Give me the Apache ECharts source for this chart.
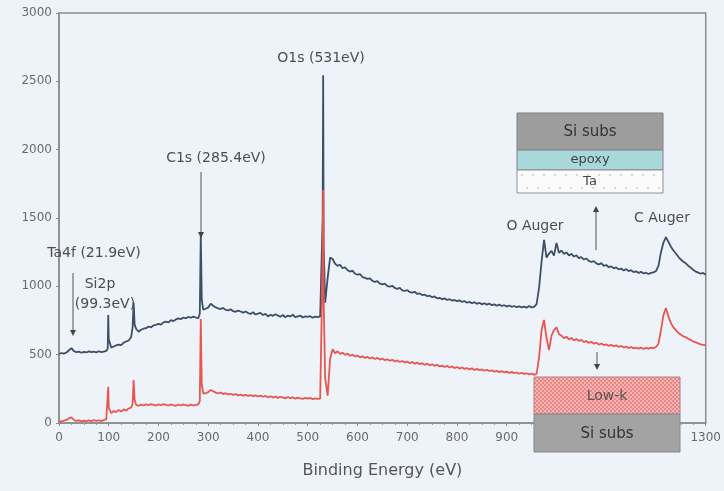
<!DOCTYPE html>
<html>
<head>
<meta charset="utf-8">
<script src="https://cdn.jsdelivr.net/npm/echarts@6/dist/echarts.min.js"></script>
<style>
  html, body { margin: 0; padding: 0; background: #eef3fa; }
  #chart { width: 724px; height: 491px; }
</style>
</head>
<body>
<div id="chart"></div>
<script>
// XPS survey spectra: Ta / epoxy stack (upper) and Low-k film (lower)
const xTicks = [0, 100, 200, 300, 400, 500, 600, 700, 800, 900, 1000, 1100, 1200, 1300];
const yTicks = [0, 500, 1000, 1500, 2000, 2500, 3000];

// [binding energy (eV), counts]
const taEpoxySpectrum = [
  [0,505],[5,512],[10,508],[15,516],[20,532],[25,548],[30,526],[35,518],[40,522],[45,514],[50,521],[55,516],[60,524],[65,518],[70,522],[75,517],[80,525],[85,519],[90,523],[95,527],[98,545],[99,790],[100,610],[105,552],[110,560],[115,568],[120,574],[125,570],[130,588],[135,596],[140,604],[145,628],[148,700],[150,880],[152,720],[155,690],[160,668],[165,682],[170,690],[175,694],[180,706],[185,700],[190,714],[195,718],[200,726],[205,720],[210,736],[215,742],[220,736],[225,752],[230,746],[235,758],[240,766],[245,760],[250,772],[255,766],[260,776],[265,770],[270,778],[275,772],[280,766],[283,800],[285,1385],[287,900],[290,830],[295,836],[300,846],[305,872],[310,858],[315,846],[320,838],[325,834],[330,842],[335,828],[340,824],[345,832],[350,818],[355,814],[360,822],[365,816],[370,808],[375,816],[380,804],[385,798],[390,810],[395,794],[400,800],[405,806],[410,790],[415,798],[420,780],[425,792],[430,784],[435,796],[440,786],[445,778],[450,790],[455,774],[460,786],[465,780],[470,792],[475,774],[480,780],[485,786],[490,772],[495,780],[500,776],[505,782],[510,770],[515,778],[520,774],[525,780],[528,792],[530,1500],[531,2545],[532,1300],[535,880],[540,1060],[545,1210],[550,1200],[555,1165],[560,1150],[565,1158],[570,1132],[575,1140],[580,1118],[585,1108],[590,1115],[595,1092],[600,1085],[605,1090],[610,1068],[615,1062],[620,1055],[625,1058],[630,1040],[635,1032],[640,1038],[645,1020],[650,1015],[655,1020],[660,1002],[665,998],[670,1004],[675,988],[680,982],[685,988],[690,970],[695,966],[700,972],[705,958],[710,954],[715,960],[720,944],[725,948],[730,936],[735,940],[740,928],[745,932],[750,920],[755,926],[760,912],[765,916],[770,905],[775,912],[780,900],[785,906],[790,896],[795,900],[800,892],[805,898],[810,886],[815,892],[820,880],[825,886],[830,876],[835,884],[840,872],[845,880],[850,868],[855,876],[860,866],[865,874],[870,862],[875,868],[880,858],[885,866],[890,856],[895,862],[900,852],[905,860],[910,850],[915,856],[920,848],[925,854],[930,846],[935,852],[940,844],[945,856],[950,846],[955,850],[960,870],[965,990],[970,1180],[975,1340],[980,1210],[985,1240],[990,1260],[995,1225],[1000,1318],[1005,1245],[1010,1262],[1015,1236],[1020,1248],[1025,1226],[1030,1238],[1035,1218],[1040,1226],[1045,1206],[1050,1214],[1055,1196],[1060,1204],[1065,1186],[1070,1178],[1075,1184],[1080,1168],[1085,1160],[1090,1170],[1095,1150],[1100,1156],[1105,1140],[1110,1146],[1115,1132],[1120,1138],[1125,1124],[1130,1130],[1135,1116],[1140,1126],[1145,1112],[1150,1118],[1155,1104],[1160,1110],[1165,1098],[1170,1106],[1175,1094],[1180,1100],[1185,1090],[1190,1098],[1195,1102],[1200,1112],[1205,1150],[1210,1250],[1215,1320],[1220,1360],[1225,1325],[1230,1290],[1235,1262],[1240,1240],[1245,1216],[1250,1196],[1255,1180],[1260,1168],[1265,1150],[1270,1136],[1275,1120],[1280,1108],[1285,1100],[1290,1092],[1295,1098],[1300,1084]
];

const lowKSpectrum = [
  [0,14],[5,10],[10,18],[15,22],[20,34],[25,42],[30,22],[35,16],[40,20],[45,12],[50,18],[55,14],[60,20],[65,12],[70,22],[75,16],[80,20],[85,14],[90,22],[95,26],[98,40],[99,265],[100,110],[105,72],[110,88],[115,80],[120,96],[125,84],[130,100],[135,92],[140,106],[145,112],[148,140],[150,315],[152,170],[155,132],[160,126],[165,134],[170,128],[175,136],[180,130],[185,138],[190,132],[195,128],[200,136],[205,130],[210,138],[215,132],[220,128],[225,136],[230,130],[235,126],[240,134],[245,128],[250,136],[255,130],[260,126],[265,134],[270,128],[275,132],[280,136],[283,160],[285,760],[287,280],[290,215],[295,218],[300,226],[305,242],[310,232],[315,222],[320,216],[325,224],[330,212],[335,218],[340,208],[345,214],[350,206],[355,212],[360,202],[365,208],[370,200],[375,206],[380,198],[385,204],[390,196],[395,202],[400,194],[405,200],[410,192],[415,198],[420,188],[425,196],[430,186],[435,194],[440,184],[445,192],[450,186],[455,180],[460,190],[465,182],[470,188],[475,178],[480,186],[485,180],[490,176],[495,184],[500,178],[505,184],[510,174],[515,180],[520,176],[525,178],[528,190],[530,1200],[531,1705],[532,900],[535,330],[540,200],[545,470],[550,540],[555,510],[560,525],[565,505],[570,515],[575,498],[580,508],[585,492],[590,500],[595,486],[600,494],[605,480],[610,488],[615,476],[620,484],[625,472],[630,480],[635,468],[640,476],[645,464],[650,472],[655,460],[660,466],[665,456],[670,462],[675,450],[680,458],[685,446],[690,454],[695,442],[700,450],[705,438],[710,446],[715,434],[720,442],[725,430],[730,438],[735,426],[740,434],[745,422],[750,430],[755,418],[760,426],[765,414],[770,420],[775,410],[780,418],[785,406],[790,414],[795,402],[800,410],[805,398],[810,406],[815,396],[820,402],[825,392],[830,400],[835,388],[840,396],[845,386],[850,392],[855,382],[860,390],[865,380],[870,386],[875,376],[880,382],[885,372],[890,380],[895,370],[900,376],[905,366],[910,374],[915,364],[920,370],[925,360],[930,368],[935,358],[940,364],[945,356],[950,362],[955,352],[960,360],[965,480],[970,680],[975,754],[980,620],[985,534],[990,640],[995,680],[1000,700],[1005,650],[1010,640],[1015,620],[1020,632],[1025,612],[1030,622],[1035,604],[1040,614],[1045,600],[1050,608],[1055,592],[1060,600],[1065,586],[1070,594],[1075,580],[1080,588],[1085,574],[1090,582],[1095,570],[1100,576],[1105,564],[1110,572],[1115,560],[1120,568],[1125,556],[1130,564],[1135,552],[1140,560],[1145,548],[1150,556],[1155,546],[1160,552],[1165,544],[1170,552],[1175,542],[1180,550],[1185,544],[1190,552],[1195,548],[1200,556],[1205,580],[1210,680],[1215,790],[1220,841],[1225,780],[1230,730],[1235,700],[1240,680],[1245,660],[1250,646],[1255,634],[1260,628],[1265,616],[1270,608],[1275,596],[1280,590],[1285,582],[1290,576],[1295,572],[1300,568]
];

const FONT = '"DejaVu Sans", Verdana, sans-serif';
const TEXT = '#4d4d4d';

// checkered fill for the Low-k layer
function checker() {
  const c = document.createElement('canvas');
  c.width = 4; c.height = 4;
  const g = c.getContext('2d');
  g.fillStyle = '#f6b4b4'; g.fillRect(0, 0, 4, 4);
  g.fillStyle = '#ea8686'; g.fillRect(0, 0, 2, 2); g.fillRect(2, 2, 2, 2);
  return c;
}

function label(text, x, y, size, color) {
  return { type: 'text', z: 20, x: x, y: y,
    style: { text: text, fill: color || TEXT, font: (size || 14) + 'px ' + FONT,
             textAlign: 'center', textVerticalAlign: 'middle' } };
}

function arrow(x, yFrom, yTo) {
  const dir = yTo > yFrom ? 1 : -1;
  return [
    { type: 'line', z: 20, shape: { x1: x, y1: yFrom, x2: x, y2: yTo - dir * 4 },
      style: { stroke: '#555', lineWidth: 1 } },
    { type: 'polygon', z: 20, shape: { points: [[x - 3, yTo - dir * 6], [x + 3, yTo - dir * 6], [x, yTo]] },
      style: { fill: '#444' } }
  ];
}

function dots(x0, x1, y, step, offset) {
  const out = [];
  for (let x = x0 + offset; x < x1 - 2; x += step) {
    out.push({ type: 'circle', z: 21, shape: { cx: x, cy: y, r: 0.7 }, style: { fill: '#999' } });
  }
  return out;
}

const chart = echarts.init(document.getElementById('chart'));

const graphics = [
  // sample stack: Si substrate / epoxy / Ta
  { type: 'rect', z: 20, shape: { x: 517, y: 113, width: 146, height: 37 }, style: { fill: '#9d9d9d', stroke: '#808080', lineWidth: 1 } },
  label('Si subs', 590, 132, 15, '#333'),
  { type: 'rect', z: 20, shape: { x: 517, y: 150, width: 146, height: 20 }, style: { fill: '#a9d8db', stroke: '#808080', lineWidth: 1 } },
  label('epoxy', 590, 160, 13, '#444'),
  { type: 'rect', z: 20, shape: { x: 517, y: 170, width: 146, height: 23 }, style: { fill: '#fbfbfb', stroke: '#909090', lineWidth: 1 } },
  ...dots(517, 663, 175, 11, 5),
  ...dots(517, 663, 188, 11, 10),
  label('Ta', 590, 182, 13, '#444'),

  // sample stack: Low-k / Si substrate
  { type: 'rect', z: 20, shape: { x: 534, y: 377, width: 146, height: 37 }, style: { fill: { image: checker(), repeat: 'repeat' }, stroke: '#b08080', lineWidth: 1 } },
  label('Low-k', 607, 396, 14, '#555'),
  { type: 'rect', z: 20, shape: { x: 534, y: 414, width: 146, height: 38 }, style: { fill: '#a3a3a3', stroke: '#888', lineWidth: 1 } },
  label('Si subs', 607, 434, 15, '#333'),

  // peak annotations
  label('Ta4f (21.9eV)', 94, 253),
  ...arrow(73, 273, 336),
  label('Si2p', 100, 284),
  label('(99.3eV)', 105, 304),
  label('C1s (285.4eV)', 216, 158),
  ...arrow(201, 172, 238),
  label('O1s (531eV)', 321, 58),
  label('O Auger', 535, 226),
  label('C Auger', 662, 218),
  ...arrow(596, 250, 206),
  ...arrow(597, 352, 370)
];

chart.setOption({
  backgroundColor: '#eef3fa',
  animation: false,
  grid: { left: 59, right: 17, top: 13, bottom: 68, show: true,
          borderColor: '#8c8c8c', borderWidth: 1.5, backgroundColor: 'transparent' },
  xAxis: {
    type: 'value', min: xTicks[0], max: xTicks[xTicks.length - 1], interval: 100,
    name: 'Binding Energy (eV)', nameLocation: 'middle', nameGap: 40,
    nameTextStyle: { fontFamily: FONT, fontSize: 16, color: '#555' },
    axisLine: { show: true, lineStyle: { color: '#8c8c8c', width: 1.5 } },
    axisTick: { show: true, length: 3, lineStyle: { color: '#8c8c8c' } },
    minorTick: { show: true, splitNumber: 4, length: 2, lineStyle: { color: '#9a9a9a' } },
    axisLabel: { fontFamily: FONT, fontSize: 12, color: '#6a6a6a', margin: 9,
                 formatter: v => xTicks.includes(v) ? String(v) : '' },
    splitLine: { show: false }
  },
  yAxis: {
    type: 'value', min: yTicks[0], max: yTicks[yTicks.length - 1], interval: 500,
    axisLine: { show: true, lineStyle: { color: '#8c8c8c', width: 1.5 } },
    axisTick: { show: true, length: 3, lineStyle: { color: '#8c8c8c' } },
    axisLabel: { fontFamily: FONT, fontSize: 12, color: '#6a6a6a', margin: 7,
                 formatter: v => yTicks.includes(v) ? String(v) : '' },
    splitLine: { show: false }
  },
  series: [
    { name: 'Ta / epoxy', type: 'line', data: taEpoxySpectrum, showSymbol: false,
      lineStyle: { color: '#3c4e68', width: 1.8 }, z: 3 },
    { name: 'Low-k', type: 'line', data: lowKSpectrum, showSymbol: false,
      lineStyle: { color: '#e8574f', width: 1.8 }, z: 4 }
  ],
  graphic: graphics
});
</script>
</body>
</html>
